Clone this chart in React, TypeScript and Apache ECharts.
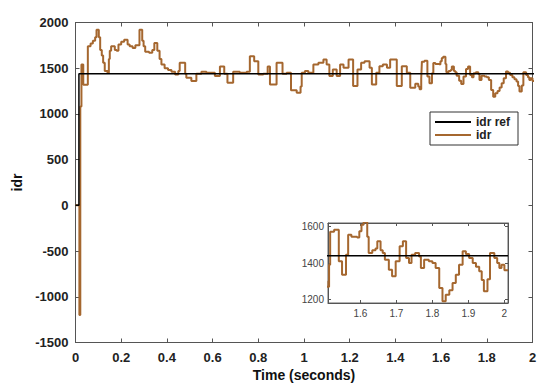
import React, { useEffect, useRef } from 'react';
import * as echarts from 'echarts';

const refTime = [0, 0.015, 0.015, 2.01];
const refValue = [0, 0, 1440, 1440];

const idrTime = [
  0, 0.017, 0.021, 0.026, 0.034, 0.054, 0.066, 0.076, 0.086, 0.092,
  0.102, 0.108, 0.115, 0.121, 0.128, 0.14, 0.146, 0.15, 0.156, 0.172,
  0.18, 0.188, 0.2, 0.213, 0.228, 0.237, 0.25, 0.262, 0.28, 0.292,
  0.298, 0.305, 0.322, 0.336, 0.345, 0.358, 0.368, 0.376, 0.39, 0.405,
  0.42, 0.436, 0.45, 0.456, 0.474, 0.48, 0.485, 0.507, 0.529, 0.551,
  0.573, 0.595, 0.61, 0.632, 0.651, 0.665, 0.69, 0.719, 0.749, 0.763,
  0.782, 0.8, 0.822, 0.841, 0.851, 0.88, 0.906, 0.924, 0.943, 0.968,
  0.985, 0.99, 1.004, 1.019, 1.041, 1.063, 1.085, 1.099, 1.111, 1.126,
  1.143, 1.158, 1.173, 1.195, 1.215, 1.234, 1.25, 1.265, 1.287, 1.297,
  1.316, 1.33, 1.345, 1.363, 1.377, 1.406, 1.428, 1.45, 1.465, 1.487,
  1.5, 1.506, 1.513, 1.516, 1.527, 1.54, 1.549, 1.56, 1.566, 1.575,
  1.591, 1.597, 1.603, 1.609, 1.619, 1.623, 1.633, 1.642, 1.647, 1.656,
  1.662, 1.668, 1.679, 1.688, 1.698, 1.709, 1.718, 1.727, 1.735, 1.742,
  1.752, 1.763, 1.768, 1.777, 1.79, 1.8, 1.809, 1.819, 1.828, 1.837,
  1.847, 1.856, 1.865, 1.874, 1.884, 1.893, 1.902, 1.912, 1.921, 1.93,
  1.937, 1.943, 1.953, 1.96, 1.972, 1.98, 1.986, 1.992, 2.0, 2.01,
];
const idrValue = [
  0, -1200, 1080, 1540, 1320, 1740, 1770, 1800, 1840, 1920,
  1840, 1700, 1640, 1560, 1470, 1450, 1600, 1690, 1740, 1700,
  1690, 1760, 1790, 1810, 1760, 1740, 1720, 1750, 1920, 1800,
  1740, 1680, 1670, 1700, 1776, 1690, 1600, 1540, 1500, 1480,
  1460, 1430, 1470, 1560, 1560, 1440, 1395, 1359, 1440, 1460,
  1450, 1450, 1414, 1520, 1440, 1341, 1460, 1450, 1460, 1631,
  1577, 1430, 1440, 1520, 1323, 1559, 1440, 1450, 1260, 1232,
  1300, 1450, 1470, 1450, 1540, 1559, 1595, 1540, 1414, 1486,
  1414, 1540, 1504, 1595, 1305, 1486, 1559, 1577, 1504, 1323,
  1450, 1522, 1540, 1504, 1595, 1305, 1522, 1450, 1287, 1330,
  1300, 1270, 1391, 1572, 1583, 1410, 1336, 1445, 1556, 1545,
  1540, 1575, 1611, 1626, 1545, 1455, 1470, 1480, 1519, 1470,
  1455, 1418, 1363, 1327, 1409, 1492, 1519, 1427, 1400, 1445,
  1455, 1436, 1372, 1418, 1410, 1400, 1372, 1262, 1189, 1225,
  1250, 1290, 1336, 1391, 1464, 1450, 1427, 1400, 1380, 1354,
  1306, 1244, 1310, 1455, 1427, 1400, 1372, 1390, 1360, 1360,
];

const mainXTickStep = 0.2;
const mainYTickStep = 500;
const insetXTicks = [1.6, 1.7, 1.8, 1.9, 2];
const insetYTicks = [1200, 1400, 1600];

const IDR_COLOR = '#a5672f';
const FONT = 'Liberation Sans, Arial, sans-serif';

export default function App() {
  const ref = useRef<HTMLDivElement>(null);
  useEffect(() => {
    const chart = echarts.init(ref.current!, null, { renderer: 'svg' });
    const idr = idrTime.map((t, i) => [t, idrValue[i]]);
    const refData = refTime.map((t, i) => [t, refValue[i]]);
    const lineStyle = { color: '#555', width: 1 };
    const mainLabel = { color: '#222', fontWeight: 'bold', fontSize: 13, fontFamily: FONT };
    const insetLabel = { color: '#444', fontSize: 10, fontFamily: FONT };
    const fmt1 = (v: number) => String(Math.round(v * 10) / 10);
    const fmt0 = (v: number) => String(Math.round(v));

    chart.setOption({
      animation: false,
      backgroundColor: '#fff',
      grid: [
        { left: 75.5, top: 22.5, width: 457, height: 320, show: false },
        { left: 328, top: 223, width: 180, height: 80, show: true, backgroundColor: '#fff', borderColor: '#666', borderWidth: 1 },
      ],
      xAxis: [
        {
          type: 'value', gridIndex: 0, min: 0, max: 2, interval: mainXTickStep, position: 'bottom',
          axisLine: { show: true, onZero: false, lineStyle },
          axisTick: { show: true, inside: true, length: 4, lineStyle },
          axisLabel: { ...mainLabel, margin: 8, formatter: fmt1 },
          splitLine: { show: false },
          name: 'Time (seconds)', nameLocation: 'middle', nameGap: 25,
          nameTextStyle: { color: '#111', fontWeight: 'bold', fontSize: 14, fontFamily: FONT },
        },
        {
          type: 'value', gridIndex: 0, min: 0, max: 2, interval: mainXTickStep, position: 'top',
          axisLine: { show: true, onZero: false, lineStyle },
          axisTick: { show: true, inside: true, length: 4, lineStyle },
          axisLabel: { show: false }, splitLine: { show: false },
        },
        {
          type: 'value', gridIndex: 1, min: 1.51, max: 2.01, position: 'bottom',
          axisLine: { show: true, onZero: false, lineStyle },
          axisTick: { show: true, inside: true, length: 3, lineStyle, customValues: insetXTicks },
          axisLabel: { ...insetLabel, margin: 5, customValues: insetXTicks, formatter: fmt1 },
          splitLine: { show: false },
        },
        {
          type: 'value', gridIndex: 1, min: 1.51, max: 2.01, position: 'top',
          axisLine: { show: true, onZero: false, lineStyle },
          axisTick: { show: true, inside: true, length: 3, lineStyle, customValues: insetXTicks },
          axisLabel: { show: false }, splitLine: { show: false },
        },
      ],
      yAxis: [
        {
          type: 'value', gridIndex: 0, min: -1500, max: 2000, interval: mainYTickStep, position: 'left',
          axisLine: { show: true, onZero: false, lineStyle },
          axisTick: { show: true, inside: true, length: 4, lineStyle },
          axisLabel: { ...mainLabel, margin: 7, formatter: fmt0 },
          splitLine: { show: false },
          name: 'idr', nameLocation: 'middle', nameGap: 52, nameRotate: 90,
          nameTextStyle: { color: '#111', fontWeight: 'bold', fontSize: 14, fontFamily: FONT },
        },
        {
          type: 'value', gridIndex: 0, min: -1500, max: 2000, interval: mainYTickStep, position: 'right',
          axisLine: { show: true, onZero: false, lineStyle },
          axisTick: { show: true, inside: true, length: 4, lineStyle },
          axisLabel: { show: false }, splitLine: { show: false },
        },
        {
          type: 'value', gridIndex: 1, min: 1180, max: 1620, position: 'left',
          axisLine: { show: true, onZero: false, lineStyle },
          axisTick: { show: true, inside: true, length: 3, lineStyle, customValues: insetYTicks },
          axisLabel: { ...insetLabel, margin: 4, customValues: insetYTicks, formatter: fmt0 },
          splitLine: { show: false },
        },
        {
          type: 'value', gridIndex: 1, min: 1180, max: 1620, position: 'right',
          axisLine: { show: true, onZero: false, lineStyle },
          axisTick: { show: true, inside: true, length: 3, lineStyle, customValues: insetYTicks },
          axisLabel: { show: false }, splitLine: { show: false },
        },
      ],
      legend: {
        data: [{ name: 'idr ref' }, { name: 'idr' }],
        orient: 'vertical', left: 430, top: 112,
        itemWidth: 36, itemHeight: 2, icon: 'rect', itemGap: 1,
        padding: [4, 8, 4, 5],
        borderColor: '#333', borderWidth: 1, backgroundColor: '#fff',
        textStyle: { color: '#222', fontWeight: 'bold', fontSize: 12, fontFamily: FONT },
      },
      series: [
        {
          name: 'idr', type: 'line', xAxisIndex: 0, yAxisIndex: 0, data: idr, step: 'end',
          showSymbol: false, symbol: 'none', lineStyle: { color: IDR_COLOR, width: 2 }, itemStyle: { color: IDR_COLOR }, z: 2,
        },
        {
          name: 'idr ref', type: 'line', xAxisIndex: 0, yAxisIndex: 0, data: refData,
          showSymbol: false, symbol: 'none', lineStyle: { color: '#000', width: 1.5 }, itemStyle: { color: '#000' }, z: 3,
        },
        {
          name: 'idr', type: 'line', xAxisIndex: 2, yAxisIndex: 2, data: idr, step: 'end',
          showSymbol: false, symbol: 'none', lineStyle: { color: IDR_COLOR, width: 2 }, itemStyle: { color: IDR_COLOR }, z: 4,
        },
        {
          name: 'idr ref', type: 'line', xAxisIndex: 2, yAxisIndex: 2, data: refData,
          showSymbol: false, symbol: 'none', lineStyle: { color: '#000', width: 1.5 }, itemStyle: { color: '#000' }, z: 5,
        },
      ],
    });
    return () => chart.dispose();
  }, []);
  return <div ref={ref} style={{ position: 'fixed', left: 0, top: 0, width: 550, height: 392 }} />;
}
